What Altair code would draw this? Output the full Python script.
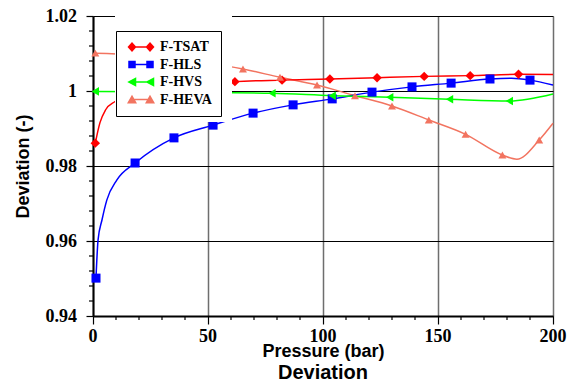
import altair as alt
import pandas as pd

SERIES = ["F-TSAT", "F-HLS", "F-HVS", "F-HEVA"]
COLORS = ["#FF0000", "#0000FF", "#00FF00", "#F27460"]
SHAPES = ["diamond", "square", "triangle-left", "triangle-up"]
SIZES = [90, 64, 90, 100]

# ---- marker values (pressure in bar, deviation) ----
tsat_p = [1, 21, 41, 61.7, 82.2, 103, 123.5, 144, 164, 185]
tsat_v = [0.9861, 1.0000, 1.0015, 1.0025, 1.0029, 1.0032, 1.00355, 1.0039, 1.0041, 1.00445]
hls_p = [1.3, 18.3, 35.2, 52.2, 69.6, 87, 104, 121.3, 138.7, 155.7, 172.6, 190]
hls_v = [0.9501, 0.9808, 0.9875, 0.9909, 0.9941, 0.9963, 0.9979, 0.9997, 1.0011, 1.0021, 1.0032, 1.0029]
hvs_p = [1, 26.5, 52, 77.8, 104, 129, 155, 181]
hvs_v = [0.9999, 0.9998, 0.9996, 0.9994, 0.99875, 0.99832, 0.99779, 0.99733]
heva_p = [1, 17, 33, 49, 65.2, 81.3, 97.4, 113.9, 130, 146, 162, 178, 194]
heva_v = [1.0101, 1.0097, 1.0088, 1.0075, 1.00587, 1.00365, 1.0016, 0.99875, 0.9960, 0.99227, 0.98845, 0.98293, 0.98693]

# ---- extra points (between markers) ----
tsat_curve_p = [3, 5.5, 9.6, 200]
tsat_curve_v = [0.9915, 0.9950, 0.9972, 1.0044]
hls_curve_p = [2.2, 3.9, 6, 10.4, 182, 200]
hls_curve_v = [0.9603, 0.9656, 0.9709, 0.9763, 1.0034, 1.0016]
hvs_curve_p = [200]
hvs_curve_v = [0.9992]
heva_curve_p = [184.3, 200]
heva_curve_v = [0.9818, 0.99139]

# ---- ticks and tick labels ----
x_major_ticks = [0, 50, 100, 150, 200]
x_tick_labels = ["0", "50", "100", "150", "200"]
x_minor_ticks = [10, 20, 30, 40, 60, 70, 80, 90, 110, 120, 130, 140, 160, 170, 180, 190]
y_major_ticks = [0.94, 0.96, 0.98, 1.0, 1.02]
y_tick_labels = ["0.94", "0.96", "0.98", "1", "1.02"]
y_minor_ticks = [0.944, 0.948, 0.952, 0.956, 0.964, 0.968, 0.972, 0.976,
                 0.984, 0.988, 0.992, 0.996, 1.004, 1.008, 1.012, 1.016]

marker_sets = [(tsat_p, tsat_v), (hls_p, hls_v), (hvs_p, hvs_v), (heva_p, heva_v)]
curve_sets = [(tsat_curve_p, tsat_curve_v), (hls_curve_p, hls_curve_v),
              (hvs_curve_p, hvs_curve_v), (heva_curve_p, heva_curve_v)]

mrows, lrows = [], []
for name, (mp, mv), (cp, cv) in zip(SERIES, marker_sets, curve_sets):
    for p, v in zip(mp, mv):
        mrows.append({"series": name, "P": p, "V": v})
        lrows.append({"series": name, "P": p, "V": v})
    for p, v in zip(cp, cv):
        lrows.append({"series": name, "P": p, "V": v})
markers = pd.DataFrame(mrows)
lines = pd.DataFrame(lrows).sort_values(["series", "P"])
xminor = pd.DataFrame({"P": x_minor_ticks})
yminor = pd.DataFrame({"V": y_minor_ticks})
xlab = pd.DataFrame({"P": x_major_ticks, "label": x_tick_labels})
ylab = pd.DataFrame({"V": y_major_ticks, "label": y_tick_labels})

# legend symbols: two markers joined by a short line (unit = 5 px at size 100)
def bar():
    return "M-1.8,-0.15L1.8,-0.15L1.8,0.15L-1.8,0.15Z"

def diamond(c):
    return f"M{c},-1L{c+0.9},0L{c},1L{c-0.9},0Z"

def square(c):
    return f"M{c-0.75},-0.75L{c+0.75},-0.75L{c+0.75},0.75L{c-0.75},0.75Z"

def tleft(c):
    return f"M{c-0.95},0L{c+0.85},-0.95L{c+0.85},0.95Z"

def tup(c):
    return f"M{c},-0.95L{c+1},0.8L{c-1},0.8Z"

LEGEND_PATHS = [bar() + f(-1.8) + f(1.8) for f in (diamond, square, tleft, tup)]

SERIF = "'Liberation Serif', 'Times New Roman', Times, serif"
SANS = "'Liberation Sans', Arial, Helvetica, sans-serif"

xscale = alt.Scale(domain=[0, 200], nice=False, zero=False)
yscale = alt.Scale(domain=[0.94, 1.02], nice=False, zero=False)
color_scale = alt.Scale(domain=SERIES, range=COLORS)

x_axis = alt.Axis(
    values=x_major_ticks, title="Pressure (bar)", labels=False,
    tickSize=8, tickColor="black", tickWidth=1.2,
    grid=True, gridColor="#6e6e6e", gridWidth=1.5,
    domainColor="black", domainWidth=2,
    titlePadding=18,
)
y_axis = alt.Axis(
    values=y_major_ticks, title="Deviation (-)", labels=False,
    tickSize=7, tickColor="black", tickWidth=1.2,
    grid=True, gridColor="black", gridWidth=1,
    domainColor="black", domainWidth=2,
    titlePadding=53,
)

def X():
    return alt.X("P:Q", scale=xscale, axis=x_axis)

def Y():
    return alt.Y("V:Q", scale=yscale, axis=y_axis)

base_line = alt.Chart(lines).mark_line(strokeWidth=1.5, interpolate="monotone").encode(
    x=X(), y=Y(),
    color=alt.Color("series:N", scale=color_scale, legend=None),
    detail="series:N",
)

pts = alt.Chart(markers).mark_point(filled=True, opacity=1, strokeWidth=0).encode(
    x=X(), y=Y(),
    color=alt.Color("series:N", scale=color_scale, legend=None),
    shape=alt.Shape("series:N", scale=alt.Scale(domain=SERIES, range=SHAPES), legend=None),
    size=alt.Size("series:N", scale=alt.Scale(domain=SERIES, range=SIZES), legend=None),
)

xminor_rules = alt.Chart(xminor).mark_rule(color="black", strokeWidth=1.2).encode(
    x=X(), y=alt.value(300), y2=alt.value(304)
)
yminor_rules = alt.Chart(yminor).mark_rule(color="black", strokeWidth=1.2).encode(
    y=Y(), x=alt.value(-4), x2=alt.value(0)
)

xlabels = alt.Chart(xlab).mark_text(
    font=SERIF, fontWeight="bold", fontSize=18, color="black", baseline="alphabetic", align="center"
).encode(x=X(), y=alt.value(326), text="label:N")
ylabels = alt.Chart(ylab).mark_text(
    font=SERIF, fontWeight="bold", fontSize=18, color="black", baseline="middle", align="right", dy=1
).encode(y=Y(), x=alt.value(-16), text="label:N")

cover = alt.Chart(markers).mark_rect(color="white").encode(
    x=alt.value(22), x2=alt.value(139), y=alt.value(-4), y2=alt.value(106)
)

legend_layer = alt.Chart(markers).transform_filter("false").transform_calculate(
    entry="datum.series"
).mark_point(filled=True, opacity=1, size=100).encode(
    x=X(), y=Y(),
    color=alt.Color("entry:N", scale=alt.Scale(domain=SERIES, range=COLORS),
                    legend=alt.Legend(title=None, orient="none", legendX=23, legendY=15)),
    shape=alt.Shape("entry:N", scale=alt.Scale(domain=SERIES, range=LEGEND_PATHS),
                    legend=alt.Legend(title=None, orient="none", legendX=23, legendY=15)),
)

chart = alt.layer(
    base_line, pts, xminor_rules, yminor_rules, xlabels, ylabels, cover, legend_layer
).resolve_scale(
    color="independent", shape="independent"
).properties(
    width=460, height=300,
    autosize=alt.AutoSizeParams(type="none"),
    padding={"left": 93, "top": 16, "right": 22, "bottom": 71},
    title=alt.TitleParams("Deviation", orient="bottom", anchor="middle",
                          font=SANS, fontSize=20, fontWeight="bold",
                          color="black", offset=2),
).configure_view(stroke=None).configure_axis(
    titleFont=SANS, titleFontWeight="bold", titleFontSize=18, titleColor="black",
).configure_legend(
    fillColor="white", strokeColor="black", strokeWidth=1, padding=9,
    labelFont=SERIF, labelFontWeight="bold", labelFontSize=14, labelColor="black",
    symbolStrokeWidth=0, symbolSize=100, symbolOffset=9, labelOffset=12, rowPadding=3.5,
    cornerRadius=0,
)

chart.save("out.html", embed_options={"renderer": "svg", "actions": False})
